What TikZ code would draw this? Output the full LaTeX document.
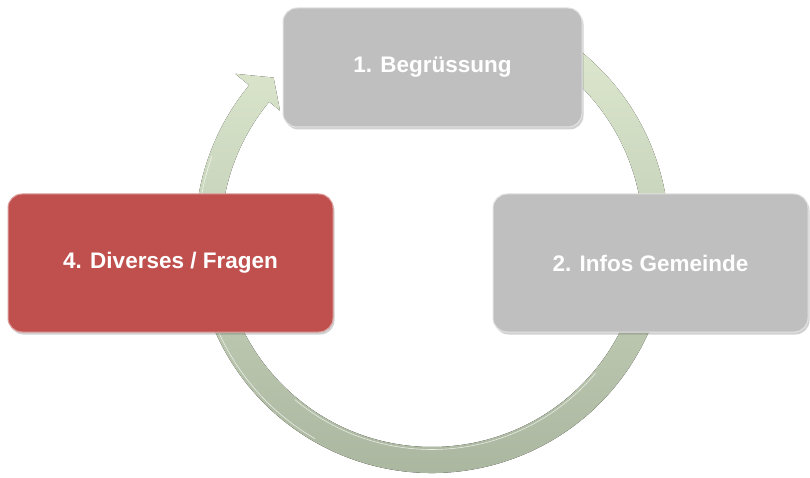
\documentclass[tikz,border=0pt]{standalone}
\usepackage{fontspec}
\setmainfont{Liberation Sans}
\usetikzlibrary{shadows}
\definecolor{boxgray}{HTML}{BFBFBF}
\definecolor{boxred}{HTML}{C0504D}
\definecolor{ringtop}{HTML}{DDE8CF}
\definecolor{ringbot}{HTML}{A8B39D}
\tikzset{
  stagebox/.style={rectangle, rounded corners=14pt, line width=1pt,
    text=white, font=\fontsize{22.5}{27}\selectfont\bfseries, align=center, inner sep=0pt,
    drop shadow={shadow xshift=1.5pt, shadow yshift=-2.5pt, opacity=0.3, fill=black!60}},
  graybox/.style={stagebox, fill=boxgray, draw=white!55!boxgray},
  redbox/.style={stagebox, fill=boxred, draw=white!45!boxred},
  ring/.style={top color=ringtop, bottom color=ringbot}
}
\begin{document}
\begin{tikzpicture}[x=1pt,y=1pt]
\useasboundingbox (0,0) rectangle (810,477);
\coordinate (c) at (432,241);
\begin{scope}[shift={(c)}]
  \fill[ring] (60:237) arc[start angle=60, end angle=-219.5, radius=237]
    -- (-219.5:255) -- (-225:224) -- (-219.5:197) -- (-219.5:211)
    arc[start angle=-219.5, end angle=60, radius=211] -- cycle;
  \draw[white, opacity=0.7, line width=0.6pt] (-200:234) arc[start angle=-200, end angle=-120, radius=234];
  \draw[white, opacity=0.7, line width=0.6pt] (-130:213.5) arc[start angle=-130, end angle=-40, radius=213.5];
\end{scope}
\node[graybox, minimum width=299pt, minimum height=119pt] (b1) at (432.5,409.5) {1. Begrüssung};
\node[graybox, minimum width=315pt, minimum height=138pt] (b2) at (650.5,214) {2. Infos Gemeinde};
\node[redbox, minimum width=325pt, minimum height=138pt] (b4) at (170.5,214) {4. Diverses / Fragen};
\end{tikzpicture}
\end{document}
